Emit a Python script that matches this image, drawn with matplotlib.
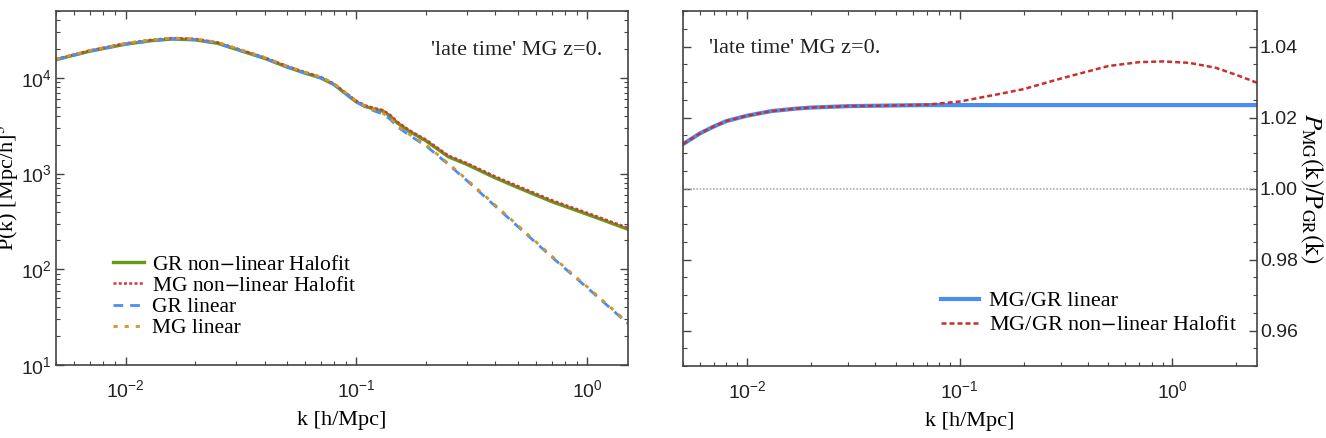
import numpy as np
import matplotlib.pyplot as plt
from matplotlib.ticker import LogLocator, MultipleLocator, NullFormatter

# ---- data ----
k = [0.005, 0.007, 0.01, 0.013, 0.016, 0.02, 0.025, 0.031, 0.04, 0.05, 0.06, 0.07,
     0.08, 0.09, 0.1, 0.11, 0.12, 0.13, 0.14, 0.15, 0.17, 0.2, 0.25, 0.3, 0.4,
     0.5, 0.7, 1.0, 1.5]
p_gr_lin = [15500, 19000, 22500, 24500, 25500, 25000, 23000, 19500, 16000, 13000,
            11200, 10000, 8500, 6800, 5600, 4900, 4500, 4200, 3700, 3100, 2500,
            1950, 1250, 850, 455, 280, 135, 64, 27]
p_mg_lin = [15690, 19330, 22960, 25030, 26070, 25570, 23530, 19950, 16370, 13300,
            11460, 10235, 8700, 6960, 5732, 5015, 4606, 4299, 3787, 3173, 2559,
            1996, 1279, 870, 466, 287, 138, 65.5, 27.6]
p_gr_nl = [15500, 19000, 22500, 24500, 25500, 25000, 23000, 19500, 16000, 13000,
           11200, 10000, 8500, 6800, 5600, 5000, 4700, 4500, 4000, 3400, 2750,
           2200, 1500, 1250, 900, 715, 510, 375, 262]
p_mg_nl = [15690, 19330, 22960, 25030, 26070, 25570, 23530, 19950, 16370, 13300,
           11460, 10235, 8700, 6960, 5737, 5125, 4819, 4615, 4104, 3490, 2824,
           2262, 1544, 1289, 930, 740, 528, 388, 271]

k_ratio = [0.005, 0.006, 0.007, 0.008, 0.01, 0.013, 0.017, 0.02, 0.03, 0.05, 0.07,
           0.1, 0.15, 0.2, 0.3, 0.5, 0.7, 0.9, 1.2, 1.6, 2.0, 2.5]
ratio_lin = [1.0125, 1.0155, 1.0175, 1.019, 1.0205, 1.0218, 1.0225, 1.0228, 1.0232,
             1.0234, 1.0235, 1.0235, 1.0235, 1.0235, 1.0235, 1.0235, 1.0235, 1.0235,
             1.0235, 1.0235, 1.0235, 1.0235]
ratio_nl = [1.0125, 1.0155, 1.0175, 1.019, 1.0205, 1.0218, 1.0225, 1.0228, 1.0232,
            1.0234, 1.0236, 1.0245, 1.0265, 1.028, 1.031, 1.0345, 1.0356, 1.0358,
            1.0354, 1.034, 1.032, 1.0298]

serif = 'Liberation Serif'
plt.rcParams['font.family'] = 'Liberation Sans'
plt.rcParams['mathtext.fontset'] = 'stix'

fig = plt.figure(figsize=(13.26, 4.38), dpi=100)
ax1 = fig.add_axes([56/1326, 73/438, 572/1326, 354/438])
ax2 = fig.add_axes([683/1326, 72/438, 574/1326, 355/438])

green = '#66991a'
red = '#d1383a'
blue = '#4a8ef5'
orange = '#d4952a'

ax1.plot(k, p_gr_nl, color=green, lw=2.4, label='GR non$-$linear Halofit')
ax1.plot(k, p_mg_nl, color=red, lw=1.8, ls=(0, (1.2, 0.9)), label='MG non$-$linear Halofit')
ax1.plot(k, p_gr_lin, color=blue, lw=2.0, ls=(0, (3.5, 2.5)), label='GR linear')
ax1.plot(k, p_mg_lin, color=orange, lw=2.0, ls=(0, (1.5, 2.5)), label='MG linear')
ax1.set_xscale('log')
ax1.set_yscale('log')
ax1.set_xlim(0.005, 1.5)
ax1.set_ylim(10, 5e4)
ax1.set_xlabel('k [h/Mpc]', family=serif, fontsize=16, labelpad=7)
ax1.set_ylabel('P(k) [Mpc/h]$^3$', family=serif, fontsize=16, labelpad=0)
ax1.text(0.955, 0.889, "'late time' MG z=0.", transform=ax1.transAxes, ha='right',
         va='center', family=serif, fontsize=16, color='#222222')
ax1.legend(loc='lower left', bbox_to_anchor=(0.08, 0.045), frameon=False,
           prop={'family': serif, 'size': 15.5}, handlelength=1.45,
           handletextpad=0.4, labelspacing=0.05, borderpad=0)

ax2.axhline(1.0, color='#aaaaaa', lw=1.2, ls=(0, (1, 1)))
ax2.plot(k_ratio, ratio_lin, color=blue, lw=3, label='MG/GR linear')
ax2.plot(k_ratio, ratio_nl, color='#c8302b', lw=1.8, ls=(0, (2, 1.2)),
         label='MG/GR non$-$linear Halofit')
ax2.set_xscale('log')
ax2.set_xlim(0.005, 2.5)
ax2.set_ylim(0.95, 1.05)
ax2.yaxis.set_major_locator(MultipleLocator(0.02))
ax2.yaxis.set_minor_locator(MultipleLocator(0.005))
ax2.yaxis.set_major_formatter(plt.FuncFormatter(lambda v, p: '%.2f' % v))
ax2.yaxis.tick_right()
ax2.yaxis.set_label_position('right')
ax2.set_xlabel('k [h/Mpc]', family=serif, fontsize=16, labelpad=7)
ax2.set_ylabel(r'$P_{\rm MG}(\rm k)/P_{\rm GR}(\rm k)$', fontsize=18,
               rotation=-90, labelpad=20)
ax2.text(0.045, 0.895, "'late time' MG z=0.", transform=ax2.transAxes, ha='left',
         va='center', family=serif, fontsize=16, color='#222222')
ax2.legend(loc='lower left', bbox_to_anchor=(0.43, 0.055), frameon=False,
           prop={'family': serif, 'size': 16}, handlelength=1.7,
           handletextpad=0.45, labelspacing=0.15, borderpad=0)

for ax in (ax1, ax2):
    for s in ax.spines.values():
        s.set_color('#444444')
        s.set_linewidth(1.2)
    ax.xaxis.set_major_locator(LogLocator(base=10, numticks=10))
    ax.xaxis.set_minor_locator(LogLocator(base=10, subs=np.arange(2, 10), numticks=10))
    ax.xaxis.set_minor_formatter(NullFormatter())
    ax.tick_params(which='both', direction='in', top=True, left=True, right=True,
                   colors='#444444', labelcolor='#222222', labelsize=14)
    ax.tick_params(which='major', length=6, width=1)
    ax.tick_params(which='minor', length=3, width=0.8)
    ax.tick_params(axis='x', pad=10)

ax1.yaxis.set_minor_locator(LogLocator(base=10, subs=np.arange(2, 10), numticks=10))
ax1.yaxis.set_minor_formatter(NullFormatter())
ax1.tick_params(axis='y', pad=3)
ax2.tick_params(axis='y', which='both', labelleft=False, labelright=True, pad=2)

fig.savefig('out.png', dpi=100)
